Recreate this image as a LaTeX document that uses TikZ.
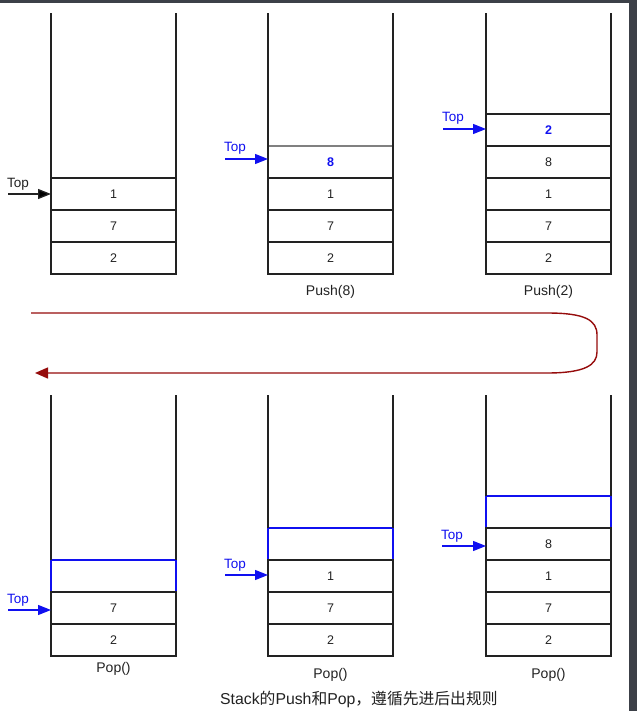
\documentclass[tikz,border=0pt]{standalone}
\usepackage{fontspec}
\setmainfont{Liberation Sans}
\newfontfamily\cjk{Noto Sans CJK SC}
\usetikzlibrary{arrows.meta}
\definecolor{frame}{HTML}{3C4048}
\definecolor{ink}{HTML}{222222}
\definecolor{pblue}{HTML}{1010F0}
\definecolor{dred}{HTML}{960C0C}
\tikzset{
  cell/.style={draw=ink, line width=1.1pt, minimum width=125pt, minimum height=32pt,
    inner sep=0pt, outer sep=0pt, text=ink, font=\fontsize{12.5}{14}\selectfont},
  newcell/.style={cell, draw=none, text=pblue, font=\fontsize{12.5}{14}\selectfont\bfseries},
  bluecell/.style={cell, draw=pblue, line width=1.5pt},
  wall/.style={draw=ink, line width=1.1pt},
  grayline/.style={draw=gray, line width=1.4pt},
  toplbl/.style={inner sep=0pt, font=\fontsize{13.5}{15}\selectfont},
  toparrow/.style={line width=1.3pt},
  oplbl/.style={inner sep=0pt, text=ink, font=\fontsize{14}{16}\selectfont},
  loop/.style={draw=dred, line width=1.4pt},
}
\begin{document}
\begin{tikzpicture}[x=1pt,y=-1pt]
\useasboundingbox (0,0) rectangle (637,711);
\fill[white] (0,0) rectangle (637,711);
% frame
\fill[frame] (0,0) rectangle (629,3.3);
\fill[frame] (629,0) rectangle (637,711);

% ---------- stack 1 ----------
\node[cell] (s1a) at (113.5,194) {1};
\node[cell] (s1b) at (113.5,226) {7};
\node[cell] (s1c) at (113.5,258) {2};
\coordinate (w1l) at (51,13); \coordinate (w1r) at (176,13);
\draw[wall] (s1c.south west) -- (w1l);
\draw[wall] (s1c.south east) -- (w1r);
\node[toplbl, text=ink, anchor=base west] (t1) at (7,188) {Top};
\coordinate (a1) at (8,194);
\draw[toparrow, draw=ink, -{Triangle[length=13pt,width=10pt,fill=black]}] (a1) -- (s1a.west);

% ---------- stack 2 ----------
\node[newcell] (s2a) at (330.5,162) {8};
\node[cell] (s2b) at (330.5,194) {1};
\node[cell] (s2c) at (330.5,226) {7};
\node[cell] (s2d) at (330.5,258) {2};
\draw[grayline] (s2a.north west) -- (s2a.north east);
\coordinate (w2l) at (268,13); \coordinate (w2r) at (393,13);
\draw[wall] (s2d.south west) -- (w2l);
\draw[wall] (s2d.south east) -- (w2r);
\node[toplbl, text=pblue, anchor=base west] (t2) at (224,152) {Top};
\coordinate (a2) at (225,159);
\draw[toparrow, draw=pblue, -{Triangle[length=13pt,width=10pt,fill=pblue]}] (a2) -- (s2a.west |- a2);
\node[oplbl] (p2) at (330.5,292) {Push(8)};

% ---------- stack 3 ----------
\node[newcell, draw=ink] (s3a) at (548.5,130) {2};
\node[cell] (s3b) at (548.5,162) {8};
\node[cell] (s3c) at (548.5,194) {1};
\node[cell] (s3d) at (548.5,226) {7};
\node[cell] (s3e) at (548.5,258) {2};
\coordinate (w3l) at (486,13); \coordinate (w3r) at (611,13);
\draw[wall] (s3e.south west) -- (w3l);
\draw[wall] (s3e.south east) -- (w3r);
\node[toplbl, text=pblue, anchor=base west] (t3) at (442,122) {Top};
\coordinate (a3) at (443,129);
\draw[toparrow, draw=pblue, -{Triangle[length=13pt,width=10pt,fill=pblue]}] (a3) -- (s3a.west |- a3);
\node[oplbl] (p3) at (548.5,292) {Push(2)};

% ---------- loop arrow ----------
\coordinate (l0) at (31,313);
\coordinate (l1) at (547,313);
\coordinate (l2) at (597,335);
\coordinate (l3) at (597,352);
\coordinate (l4) at (547,373);
\coordinate (l5) at (35,373);
\draw[loop, -{Triangle[length=13pt,width=11pt,fill=dred]}]
  (l0) -- (l1) .. controls (585,313) and (597,320) .. (l2) -- (l3)
  .. controls (597,365) and (585,373) .. (l4) -- (l5);

% ---------- stack 4 ----------
\node[bluecell] (s4a) at (113.5,576) {};
\node[cell] (s4b) at (113.5,608) {7};
\node[cell] (s4c) at (113.5,640) {2};
\coordinate (w4l) at (51,395); \coordinate (w4r) at (176,395);
\draw[wall] (s4a.north west) -- (w4l);
\draw[wall] (s4a.north east) -- (w4r);
\node[toplbl, text=pblue, anchor=base west] (t4) at (7,603) {Top};
\coordinate (a4) at (8,610);
\draw[toparrow, draw=pblue, -{Triangle[length=13pt,width=10pt,fill=pblue]}] (a4) -- (s4b.west |- a4);
\node[oplbl] (p4) at (113.5,669) {Pop()};

% ---------- stack 5 ----------
\node[bluecell] (s5a) at (330.5,544) {};
\node[cell] (s5b) at (330.5,576) {1};
\node[cell] (s5c) at (330.5,608) {7};
\node[cell] (s5d) at (330.5,640) {2};
\coordinate (w5l) at (268,395); \coordinate (w5r) at (393,395);
\draw[wall] (s5a.north west) -- (w5l);
\draw[wall] (s5a.north east) -- (w5r);
\node[toplbl, text=pblue, anchor=base west] (t5) at (224,568) {Top};
\coordinate (a5) at (225,575);
\draw[toparrow, draw=pblue, -{Triangle[length=13pt,width=10pt,fill=pblue]}] (a5) -- (s5b.west |- a5);
\node[oplbl] (p5) at (330.5,675) {Pop()};

% ---------- stack 6 ----------
\node[bluecell] (s6a) at (548.5,512) {};
\node[cell] (s6b) at (548.5,544) {8};
\node[cell] (s6c) at (548.5,576) {1};
\node[cell] (s6d) at (548.5,608) {7};
\node[cell] (s6e) at (548.5,640) {2};
\coordinate (w6l) at (486,395); \coordinate (w6r) at (611,395);
\draw[wall] (s6a.north west) -- (w6l);
\draw[wall] (s6a.north east) -- (w6r);
\node[toplbl, text=pblue, anchor=base west] (t6) at (441,539) {Top};
\coordinate (a6) at (442,546);
\draw[toparrow, draw=pblue, -{Triangle[length=13pt,width=10pt,fill=pblue]}] (a6) -- (s6b.west |- a6);
\node[oplbl] (p6) at (548.5,675) {Pop()};

% ---------- caption ----------
\node[inner sep=0pt, anchor=west, text=ink, font=\fontsize{15.8}{17}\selectfont] (cap) at (220,699)
  {Stack{\cjk 的}Push{\cjk 和}Pop{\cjk ，遵循先进后出规则}};
\end{tikzpicture}
\end{document}
